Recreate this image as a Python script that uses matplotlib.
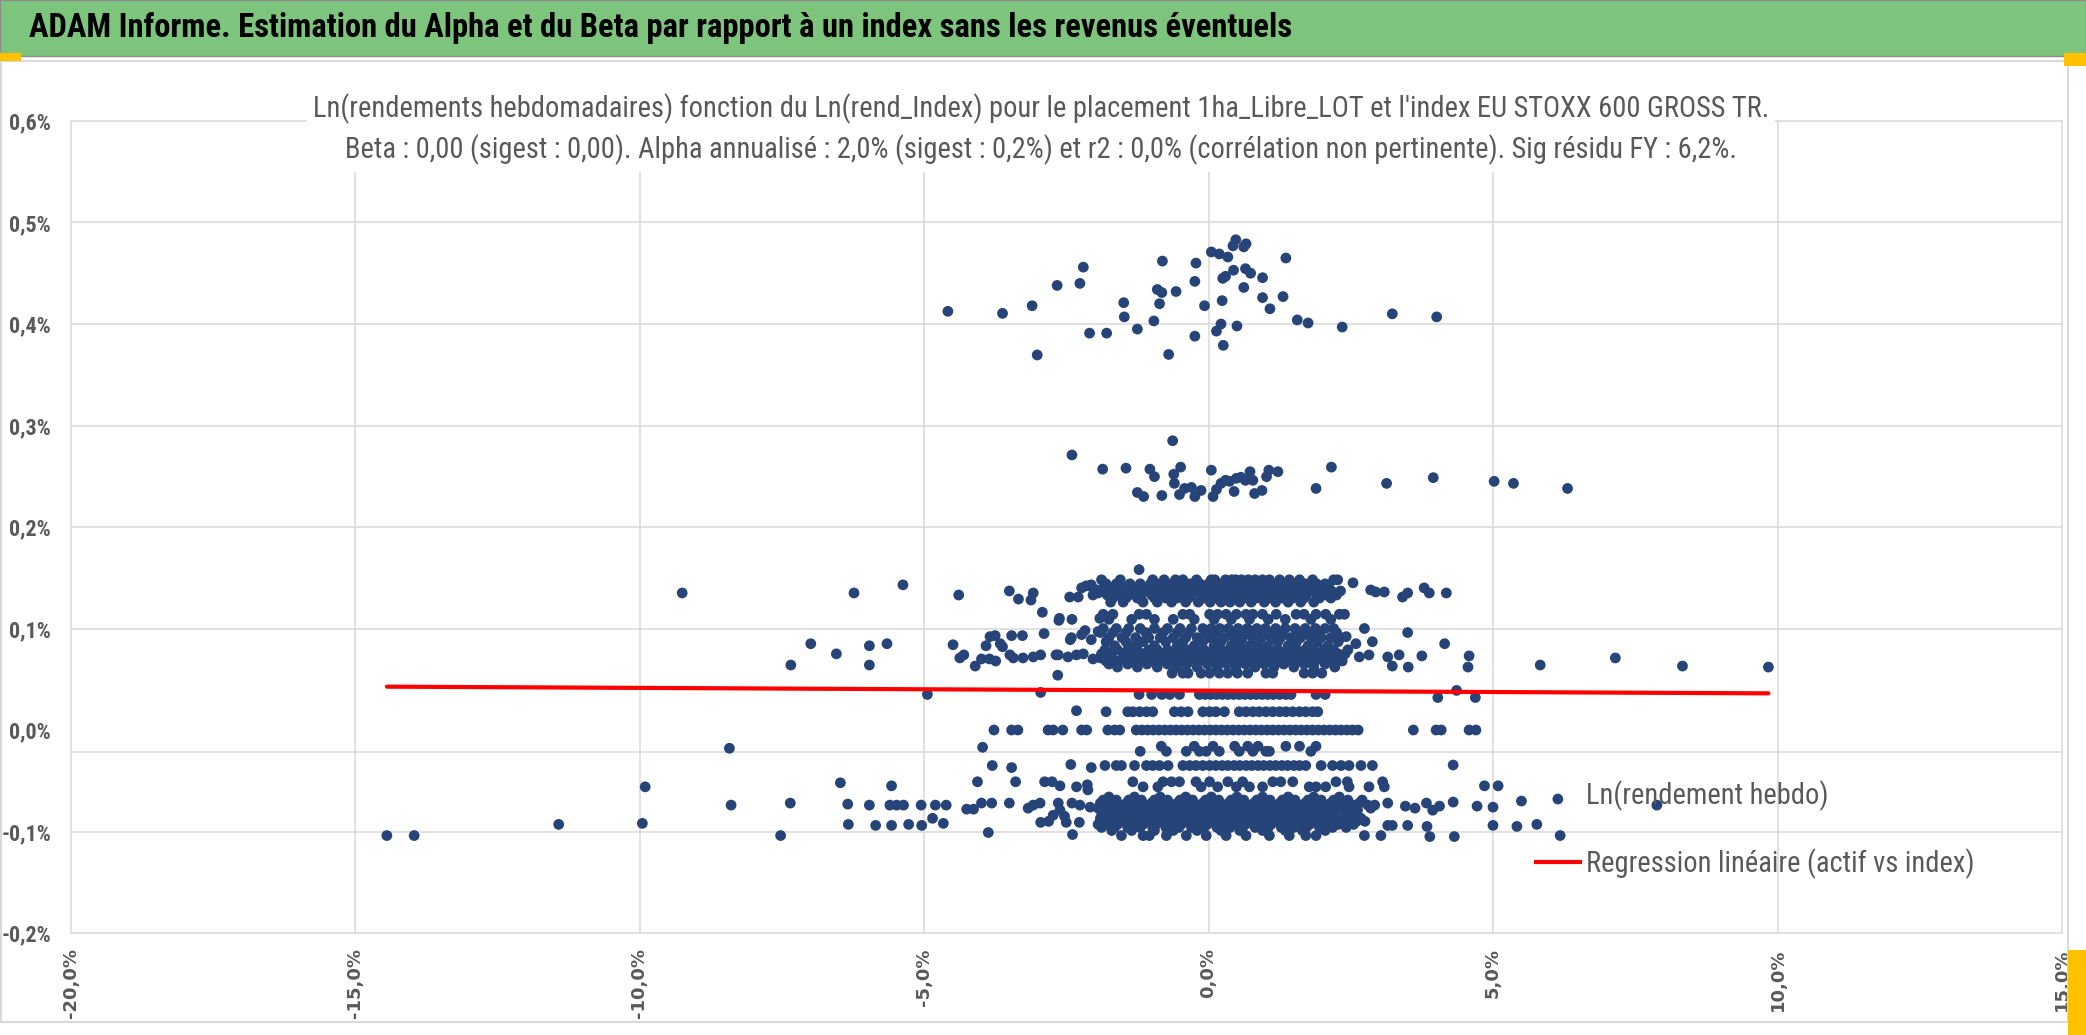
"""Nuage ADAM : ln(rendements hebdo) du placement contre ln(rendements) de l'index."""

import matplotlib
matplotlib.use("Agg")
import matplotlib.pyplot as plt
from matplotlib import font_manager
from matplotlib.font_manager import FontProperties
from matplotlib.lines import Line2D
from matplotlib.patches import Rectangle

# ---- data (en %) ----------------------------------------------------------
# amas du haut (0,37 % - 0,49 %)
hi_x = [-4.58, -3.62, -3.10, -3.01, -2.66, -2.26, -2.20, -2.09, -1.79, -1.49,
        -1.48, -1.25, -0.96, -0.90, -0.86, -0.82, -0.81, -0.70, -0.57, -0.24,
        -0.24, -0.22, -0.07, 0.05, 0.14, 0.19, 0.22, 0.24, 0.25, 0.26,
        0.30, 0.34, 0.43, 0.44, 0.48, 0.50, 0.62, 0.62, 0.66, 0.65,
        0.74, 0.95, 0.95, 1.08, 1.31, 1.36, 1.56, 1.75, 2.35, 3.23, 4.01]
hi_y = [0.4125, 0.4105, 0.418, 0.3695, 0.438, 0.440, 0.456, 0.391, 0.391, 0.421,
        0.407, 0.395, 0.403, 0.434, 0.420, 0.431, 0.462, 0.370, 0.432, 0.388,
        0.442, 0.460, 0.418, 0.471, 0.393, 0.469, 0.400, 0.423, 0.445, 0.379,
        0.447, 0.466, 0.477, 0.453, 0.483, 0.398, 0.436, 0.476, 0.479, 0.4545,
        0.450, 0.426, 0.4456, 0.415, 0.427, 0.465, 0.404, 0.401, 0.397, 0.410, 0.407]

# amas intermediaire (0,23 % - 0,29 %)
mid_x = [-2.40, -1.86, -1.45, -1.25, -1.14, -1.03, -0.95, -0.82, -0.63, -0.61,
         -0.60, -0.49, -0.51, -0.42, -0.30, -0.24, -0.13, 0.05, 0.08, 0.14,
         0.22, 0.30, 0.37, 0.45, 0.49, 0.57, 0.65, 0.73, 0.78, 0.81,
         0.94, 1.02, 1.06, 1.22, 1.89, 2.16, 3.13, 3.95, 5.02, 5.36, 6.31]
mid_y = [0.271, 0.257, 0.258, 0.234, 0.230, 0.257, 0.2496, 0.231, 0.285, 0.252,
         0.243, 0.259, 0.232, 0.238, 0.239, 0.230, 0.236, 0.256, 0.230, 0.237,
         0.243, 0.246, 0.245, 0.235, 0.248, 0.249, 0.246, 0.2545, 0.246, 0.233,
         0.236, 0.2496, 0.256, 0.2545, 0.238, 0.259, 0.243, 0.2486, 0.245, 0.243, 0.238]

# points isoles, a gauche et a droite du coeur
side_x = [-14.44, -13.96, -11.42, -9.95, -9.90, -9.25, -8.42, -8.39, -7.35, -7.52,
          -6.23, -5.37, -4.39, -3.50, -3.34, -3.12, -3.08, -2.92, -2.63, -2.62,
          -2.44, -2.40, -2.29, -2.23, -2.15, -2.06, -2.00, -1.97, -2.09, -2.03,
          -1.94, -1.91, -1.22,
          -7.34, -6.99, -6.54, -5.96, -5.96, -5.65, -4.49, -4.37, -4.30, -4.10,
          -3.99, -3.85, -3.74, -3.91, -3.84, -3.75, -3.66, -3.62, -3.49, -3.43,
          -3.26, -3.08, -2.95, -3.46, -3.27, -2.89, -2.68, -2.64, -2.47, -2.32,
          -2.20, -2.03, -2.65, -2.43, -2.41, -2.23, -2.17, -2.06, -1.94,
          -4.94, -2.95, -2.32,
          -3.77, -3.46, -3.35, -2.82, -2.73, -2.56, -2.23, -2.14,
          -3.97, -3.80, -3.46, -2.42, -2.06,
          -6.47, -5.57, -4.06, -3.39, -2.88, -2.75, -2.61, -2.32, -2.13, -2.12,
          -6.34, -5.96, -5.60, -5.48, -5.36, -5.05, -4.80, -4.61, -4.25, -4.13,
          -3.99, -3.81, -3.50, -3.17, -3.08, -2.96, -2.64, -2.61, -2.40, -2.26,
          -2.08, -1.94,
          -6.33, -5.85, -5.57, -5.27, -5.04, -4.85, -4.66, -2.95, -2.81, -2.73,
          -2.53, -2.50, -2.27, -1.94, -3.87, -2.39,
          2.54, 2.85, 2.94, 3.09, 3.41, 3.50, 3.79, 3.88, 4.18,
          2.74, 2.42, 2.59, 2.88, 3.50, 4.15, 2.65, 2.82, 3.15, 3.23,
          3.35, 3.51, 3.75, 4.58, 4.56, 5.83, 7.15, 8.33, 9.84,
          4.03, 4.36, 4.69, 3.60, 4.00, 4.09, 4.58, 4.70, 4.30, 4.85, 5.09,
          3.15, 3.46, 3.63, 3.83, 3.94, 4.06, 4.30, 4.72, 5.00, 5.50, 6.14, 7.88,
          3.15, 3.23, 3.50, 3.84, 5.00, 5.42, 5.77,
          3.89, 4.32, 6.18, 2.74, 3.03]
side_y = [-0.104, -0.104, -0.093, -0.092, -0.056, 0.135, -0.018, -0.074, -0.072, -0.104,
          0.135, 0.143, 0.133, 0.137, 0.129, 0.128, 0.135, 0.116, 0.108, 0.110,
          0.131, 0.109, 0.131, 0.140, 0.142, 0.143, 0.135, 0.138, 0.142, 0.133,
          0.135, 0.110, 0.158,
          0.064, 0.085, 0.075, 0.083, 0.064, 0.085, 0.084, 0.071, 0.074, 0.063,
          0.070, 0.070, 0.068, 0.083, 0.092, 0.093, 0.085, 0.082, 0.074, 0.071,
          0.071, 0.072, 0.074, 0.093, 0.093, 0.095, 0.074, 0.074, 0.072, 0.074,
          0.075, 0.070, 0.054, 0.089, 0.091, 0.094, 0.098, 0.089, 0.097,
          0.035, 0.037, 0.019,
          0.0, 0.0, 0.0, 0.0, 0.0, 0.0, 0.0, 0.0,
          -0.017, -0.035, -0.037, -0.034, -0.037,
          -0.052, -0.055, -0.051, -0.051, -0.051, -0.051, -0.055, -0.056, -0.054, -0.059,
          -0.073, -0.074, -0.074, -0.074, -0.074, -0.074, -0.074, -0.074, -0.078, -0.078,
          -0.072, -0.072, -0.072, -0.077, -0.074, -0.072, -0.072, -0.079, -0.072, -0.074,
          -0.076, -0.077,
          -0.093, -0.094, -0.094, -0.093, -0.094, -0.087, -0.092, -0.091, -0.090, -0.084,
          -0.085, -0.091, -0.091, -0.093, -0.101, -0.103,
          0.145, 0.138, 0.136, 0.136, 0.131, 0.135, 0.140, 0.135, 0.135,
          0.100, 0.092, 0.085, 0.087, 0.096, 0.085, 0.072, 0.074, 0.072, 0.063,
          0.074, 0.062, 0.073, 0.073, 0.062, 0.064, 0.071, 0.063, 0.062,
          0.032, 0.039, 0.032, 0.0, 0.0, 0.0, 0.0, 0.0, -0.0345, -0.055, -0.055,
          -0.072, -0.075, -0.077, -0.072, -0.079, -0.075, -0.071, -0.075, -0.076, -0.070, -0.068, -0.074,
          -0.094, -0.094, -0.094, -0.095, -0.094, -0.095, -0.093,
          -0.105, -0.105, -0.104, -0.104, -0.104]

# coeur dense : une liste d'abscisses par palier de rendement
row_148 = [-1.88, -1.55, -0.98, -0.78, -0.58, -0.45, -0.21, 0.05, 0.11, 0.30, 0.41,
           0.48, 0.58, 0.70, 0.82, 0.95, 1.07, 1.25, 1.42, 1.60, 1.83, 2.20, 2.27]
row_144 = [-1.80, -1.62, -1.38, -1.20, -1.02, -0.85, -0.65, -0.50, -0.32, -0.15, 0.00,
           0.16, 0.26, 0.40, 0.53, 0.66, 0.78, 0.92, 1.04, 1.20, 1.36, 1.52, 1.70,
           1.90, 2.05]
row_140 = [-1.85, -1.70, -1.45, -1.30, -1.10, -0.95, -0.70, -0.55, -0.38, -0.25, -0.05,
           0.08, 0.20, 0.35, 0.45, 0.60, 0.72, 0.88, 1.00, 1.15, 1.30, 1.48, 1.65,
           1.80, 1.98, 2.12]
row_137 = [-1.90, -1.65, -1.50, -1.25, -1.05, -0.88, -0.75, -0.52, -0.42, -0.20, -0.02,
           0.12, 0.24, 0.38, 0.50, 0.63, 0.76, 0.85, 0.97, 1.10, 1.26, 1.42, 1.58,
           1.75, 1.94, 2.16, 2.32]
row_133 = [-1.78, -1.60, -1.40, -1.18, -1.00, -0.82, -0.62, -0.48, -0.30, -0.12, 0.00,
           0.15, 0.27, 0.40, 0.52, 0.65, 0.78, 0.92, 1.05, 1.20, 1.35, 1.55, 1.72,
           1.90, 2.05, 2.25]
row_130 = [-1.68, -1.45, -1.25, -0.95, -0.75, -0.55, -0.35, -0.08, 0.10, 0.33, 0.47,
           0.62, 0.85, 1.10, 1.30, 1.48, 1.68, 1.95, 2.15]
row_126 = [-1.72, -1.50, -1.15, -0.90, -0.65, -0.40, -0.18, 0.03, 0.22, 0.38, 0.55,
           0.75, 0.98, 1.18, 1.40, 1.62, 1.85]
row_114 = [-1.85, -1.68, -1.22, -1.09, -0.45, -0.33, 0.02, 0.16, 0.31, 0.49, 0.66,
           0.78, 0.95, 1.19, 1.54, 1.68, 1.89, 2.06, 2.30, 2.39]
row_109 = [-1.75, -1.35, -0.95, -0.62, -0.25, 0.10, 0.40, 0.72, 1.05, 1.35, 1.80, 2.15]
row_100 = [-1.85, -1.62, -1.40, -1.20, -0.95, -0.72, -0.50, -0.30, -0.10, 0.05, 0.20,
           0.35, 0.52, 0.68, 0.85, 1.00, 1.18, 1.35, 1.52, 1.70, 1.88, 2.05, 2.20]
row_096 = [-1.90, -1.68, -1.45, -1.10, -0.80, -0.55, -0.35, -0.05, 0.15, 0.40, 0.57,
           0.75, 0.95, 1.15, 1.30, 1.58, 1.75, 1.95, 2.25]
row_091 = [-1.75, -1.52, -1.28, -1.05, -0.85, -0.62, -0.40, -0.20, 0.00, 0.12, 0.28,
           0.45, 0.60, 0.78, 0.93, 1.10, 1.27, 1.45, 1.62, 1.80, 1.98, 2.15, 2.32]
row_087 = [-1.80, -1.45, -1.15, -0.75, -0.45, -0.10, 0.22, 0.55, 0.88, 1.22, 1.55,
           1.92, 2.28]
row_083 = [-1.65, -1.30, -0.95, -0.55, -0.25, 0.10, 0.40, 0.72, 1.05, 1.40, 1.75, 2.10]
row_079 = [-1.82, -1.60, -1.42, -1.25, -1.05, -0.90, -0.72, -0.55, -0.38, -0.22, -0.08,
           0.08, 0.22, 0.36, 0.50, 0.65, 0.78, 0.94, 1.08, 1.22, 1.38, 1.55, 1.70,
           1.85, 2.02, 2.20, 2.45]
row_075 = [-1.88, -1.70, -1.50, -1.32, -1.15, -0.98, -0.80, -0.62, -0.45, -0.28, -0.12,
           0.02, 0.15, 0.30, 0.45, 0.58, 0.72, 0.88, 1.02, 1.18, 1.32, 1.48, 1.62,
           1.78, 1.95, 2.10, 2.28, 2.40]
row_071 = [-1.90, -1.72, -1.48, -1.28, -1.10, -0.92, -0.75, -0.58, -0.40, -0.25, -0.08,
           0.05, 0.20, 0.33, 0.48, 0.62, 0.75, 0.90, 1.05, 1.20, 1.35, 1.50, 1.66,
           1.82, 1.98, 2.15, 2.30]
row_068 = [-1.80, -1.58, -1.38, -1.20, -1.02, -0.85, -0.68, -0.50, -0.35, -0.18, -0.03,
           0.10, 0.25, 0.38, 0.52, 0.66, 0.80, 0.95, 1.10, 1.25, 1.40, 1.55, 1.70,
           1.87, 2.02, 2.18, 2.35]
row_065 = [-1.75, -1.42, -1.08, -0.72, -0.38, -0.02, 0.32, 0.65, 0.98, 1.32, 1.68, 2.05]
row_062 = [-1.60, -1.25, -0.90, -0.55, -0.20, 0.15, 0.48, 0.82, 1.15, 1.50, 1.85, 2.22]
row_056 = [-0.64, -0.45, -0.36, -0.13, 0.02, 0.19, 0.34, 0.51, 0.69, 1.01, 1.13,
           1.68, 1.83, 1.99]
row_035 = [-1.22, -1.00, -0.82, -0.68, -0.51, -0.16, -0.06, 0.04, 0.14, 0.24, 0.34,
           0.44, 0.54, 0.64, 0.74, 0.84, 0.94, 1.04, 1.14, 1.25, 1.36, 1.45, 1.89, 2.05]
row_018 = [-1.80, -1.42, -1.33, -1.21, -1.09, -0.98, -0.60, -0.48, -0.36, -0.10, 0.02,
           0.13, 0.28, 0.54, 0.66, 0.78, 0.89, 1.01, 1.13, 1.25, 1.36, 1.48, 1.60,
           1.71, 1.83, 1.92]
row_000 = [-1.77, -1.65, -1.56, -1.27, -1.17, -1.07, -0.97, -0.87, -0.77, -0.67, -0.57,
           -0.47, -0.37, -0.27, -0.17, -0.07, 0.03, 0.13, 0.23, 0.33, 0.43, 0.53,
           0.63, 0.73, 0.83, 0.93, 1.03, 1.13, 1.23, 1.33, 1.43, 1.53, 1.63, 1.73,
           1.83, 1.93, 2.03, 2.13, 2.23, 2.33, 2.43, 2.53, 2.63]
row_m016 = [-0.83, -0.25, 0.08, 0.46, 0.69, 0.87, 1.36, 1.60, 1.89]
row_m021 = [-1.20, -0.74, -0.39, -0.16, -0.04, 0.19, 0.54, 0.78, 1.01, 1.07, 1.80]
row_m035 = [-1.82, -1.62, -1.53, -1.30, -1.09, -0.98, -0.86, -0.71, -0.45, -0.33, -0.22,
            -0.10, 0.02, 0.13, 0.24, 0.34, 0.45, 0.55, 0.66, 0.76, 0.87, 0.97, 1.08,
            1.18, 1.29, 1.39, 1.50, 1.60, 1.71, 1.98, 2.18, 2.33, 2.47, 2.68, 2.88]
row_m051 = [-1.33, -0.80, -0.65, -0.51, -0.22, 0.02, 0.34, 0.60, 1.13, 1.27, 1.48,
            2.24, 2.44, 3.06]
row_m056 = [-1.15, -0.89, -0.13, 0.16, 0.49, 0.72, 0.95, 1.77, 1.89, 2.06, 2.47, 2.82, 3.09]
row_m066 = [-1.75, -1.30, -0.85, -0.40, 0.05, 0.50, 0.95, 1.40, 1.85, 2.30]
row_m069 = [-1.85, -1.62, -1.40, -1.18, -0.95, -0.72, -0.50, -0.28, -0.05, 0.18, 0.40,
            0.62, 0.85, 1.08, 1.30, 1.52, 1.75, 1.98, 2.20, 2.45, 2.70]
row_m072 = [-1.90, -1.66, -1.44, -1.22, -1.00, -0.78, -0.55, -0.32, -0.10, 0.12, 0.35,
            0.58, 0.80, 1.02, 1.25, 1.48, 1.70, 1.92, 2.15, 2.40, 2.65]
row_m074 = [-1.78, -1.55, -1.32, -1.10, -0.88, -0.65, -0.42, -0.20, 0.02, 0.25, 0.48,
            0.70, 0.92, 1.15, 1.38, 1.60, 1.82, 2.05, 2.30, 2.55, 2.80, 2.92]
row_m077 = [-1.82, -1.60, -1.38, -1.15, -0.92, -0.70, -0.48, -0.25, -0.02, 0.20, 0.42,
            0.65, 0.88, 1.10, 1.32, 1.55, 1.78, 2.00, 2.25, 2.50, 2.85]
row_m079 = [-1.70, -1.45, -1.22, -1.00, -0.78, -0.55, -0.32, -0.10, 0.12, 0.35, 0.58,
            0.80, 1.02, 1.25, 1.48, 1.70, 1.92, 2.15, 2.40, 2.62]
row_m081 = [-1.88, -1.52, -1.15, -0.82, -0.45, -0.05, 0.30, 0.68, 1.05, 1.42, 1.78,
            2.12, 2.58]
row_m084 = [-1.82, -1.58, -1.35, -1.12, -0.90, -0.68, -0.45, -0.22, 0.00, 0.22, 0.45,
            0.68, 0.90, 1.12, 1.35, 1.58, 1.80, 2.02, 2.25, 2.50]
row_m087 = [-1.90, -1.68, -1.45, -1.22, -1.00, -0.78, -0.55, -0.32, -0.10, 0.12, 0.35,
            0.58, 0.80, 1.02, 1.25, 1.48, 1.70, 1.92, 2.18, 2.42, 2.68]
row_m090 = [-1.75, -1.50, -1.28, -1.05, -0.82, -0.60, -0.38, -0.15, 0.08, 0.30, 0.52,
            0.75, 0.98, 1.20, 1.42, 1.65, 1.88, 2.10, 2.35, 2.60, 2.75]
row_m093 = [-1.82, -1.60, -1.38, -1.15, -0.92, -0.70, -0.48, -0.25, -0.02, 0.20, 0.42,
            0.65, 0.88, 1.10, 1.32, 1.55, 1.78, 2.00, 2.28, 2.55]
row_m096 = [-1.88, -1.65, -1.42, -1.20, -0.98, -0.75, -0.52, -0.30, -0.08, 0.15, 0.38,
            0.60, 0.82, 1.05, 1.28, 1.50, 1.72, 1.95, 2.18, 2.42]
row_m099 = [-1.70, -1.35, -0.95, -0.62, -0.20, 0.22, 0.55, 0.95, 1.35, 1.65, 2.05]
row_m104 = [-1.53, -1.15, -1.04, -0.74, -0.39, -0.04, 0.31, 0.66, 1.07, 1.42, 1.71, 1.89]

core_rows = [(0.148, row_148), (0.144, row_144), (0.140, row_140), (0.137, row_137),
             (0.133, row_133), (0.130, row_130), (0.126, row_126), (0.114, row_114),
             (0.109, row_109), (0.100, row_100), (0.096, row_096), (0.091, row_091),
             (0.087, row_087), (0.083, row_083), (0.079, row_079), (0.075, row_075),
             (0.071, row_071), (0.068, row_068), (0.065, row_065), (0.062, row_062),
             (0.056, row_056), (0.035, row_035), (0.018, row_018), (0.0, row_000),
             (-0.016, row_m016), (-0.021, row_m021), (-0.035, row_m035),
             (-0.051, row_m051), (-0.056, row_m056), (-0.066, row_m066),
             (-0.069, row_m069), (-0.072, row_m072), (-0.074, row_m074),
             (-0.077, row_m077), (-0.079, row_m079), (-0.081, row_m081),
             (-0.084, row_m084), (-0.087, row_m087), (-0.090, row_m090),
             (-0.093, row_m093), (-0.096, row_m096), (-0.099, row_m099),
             (-0.104, row_m104)]

# droite de regression (extremites)
reg_x = [-14.44, 9.84]
reg_y = [0.0427, 0.0361]

x_ticks = [-20, -15, -10, -5, 0, 5, 10, 15]
y_ticks = [-0.2, -0.1, 0.0, 0.1, 0.2, 0.3, 0.4, 0.5, 0.6]

title = ("ADAM Informe. Estimation du Alpha et du Beta par rapport à un index "
         "sans les revenus éventuels")
sub1 = ("Ln(rendements hebdomadaires) fonction du Ln(rend_Index) pour le placement "
        "1ha_Libre_LOT et l'index EU STOXX 600 GROSS TR.")
sub2 = ("Beta : 0,00 (sigest : 0,00). Alpha annualisé : 2,0% (sigest : 0,2%) et "
        "r2 : 0,0% (corrélation non pertinente). Sig résidu FY : 6,2%.")
leg_labels = ["Ln(rendement hebdo)", "Regression linéaire (actif vs index)"]

# ---- style -----------------------------------------------------------------
W, H = 2086, 1035
GREY = "#595959"
GRID = "#D9D9D9"
BLUE = "#264478"


def find_narrow():
    """Pick a narrow sans face (the original uses Calibri)."""
    ttf = font_manager.fontManager.ttflist
    names = {f.name for f in ttf}
    for n in ["Liberation Sans Narrow", "Roboto Condensed", "Open Sans Condensed",
              "Noto Sans Condensed", "DejaVu Sans Condensed"]:
        if n in names:
            return n, "normal"
    for fam in ["Noto Sans", "DejaVu Sans", "Open Sans", "Roboto"]:
        for f in ttf:
            if f.name == fam and str(f.stretch) in ("condensed", "semi-condensed",
                                                     "extra-condensed"):
                return fam, str(f.stretch)
    return "Liberation Sans", "normal"


NARROW, STRETCH = find_narrow()
FAM = [NARROW, "DejaVu Sans"]


def pct(v, nd=1):
    return (f"{v:.{nd}f}%").replace(".", ",").replace("-0,0%", "0,0%")


def fit_width(txt, width_px):
    """Scale the font size of txt so that it spans width_px pixels."""
    r = fig.canvas.get_renderer()
    w = txt.get_window_extent(renderer=r).width
    txt.set_fontsize(txt.get_fontsize() * width_px / w)


fig = plt.figure(figsize=(W / 100, H / 100), dpi=100)
fig.patch.set_facecolor("white")

# cadre et bandeau vert
fig.patches.append(Rectangle((0.5 / W, 1 - 1022 / H), 2067 / W, (1022 - 61) / H,
                             transform=fig.transFigure, fill=False,
                             edgecolor=GRID, lw=1.5))
fig.patches.append(Rectangle((0, 1 - 56 / H), 1, 56 / H, transform=fig.transFigure,
                             facecolor="#7DC57D", edgecolor="#8C8C8C", lw=1.0))
fig.patches.append(Rectangle((0, 1 - 61 / H), 21 / W, 8 / H, transform=fig.transFigure,
                             facecolor="#FFC000", edgecolor="none"))
fig.patches.append(Rectangle((2064 / W, 1 - 66 / H), 22 / W, 13 / H,
                             transform=fig.transFigure, facecolor="#FFC000",
                             edgecolor="none"))
fig.patches.append(Rectangle((2068 / W, 0), 18 / W, 85 / H, transform=fig.transFigure,
                             facecolor="#FFC000", edgecolor="none"))

t = fig.text(29 / W, 1 - 28 / H, title, ha="left", va="center", color="black",
             family=FAM, fontstretch=STRETCH, weight="bold", fontsize=24)
fit_width(t, 1272)

ax = fig.add_axes([70.5 / W, 102 / H, (2062 - 70.5) / W, (933 - 121) / H])
ax.set_xlim(-20, 15)
ax.set_ylim(-0.2, 0.6)

for v in x_ticks[1:-1]:
    ax.axvline(v, color=GRID, lw=1.1, zorder=0)
for v in y_ticks[1:-1]:
    # dans l'original le trait du 0,0 % est dessine un peu plus bas
    ax.axhline(v if v != 0 else -0.0217, color=GRID, lw=1.1, zorder=0)
for s in ax.spines.values():
    s.set_color(GRID)
    s.set_linewidth(1.1)

pts_x = hi_x + mid_x + side_x
pts_y = hi_y + mid_y + side_y
for level, xs in core_rows:
    pts_x += xs
    pts_y += [level] * len(xs)

ax.scatter(pts_x, pts_y, s=60, color=BLUE, edgecolors="none", zorder=2)
ax.plot(reg_x, reg_y, color="#FF0000", lw=3, solid_capstyle="round", zorder=3)

# taille des etiquettes de l'axe vertical : "-0,2%" large d'environ 50 px
probe = fig.text(0, 0, "-0,2%", family=FAM, fontstretch=STRETCH, weight="bold",
                 fontsize=16)
fit_width(probe, 50)
ysize = min(probe.get_fontsize(), 18)
probe.remove()

ax.set_xticks(x_ticks)
ax.set_xticklabels([pct(v) for v in x_ticks], rotation=90, family="DejaVu Sans",
                   weight="bold", fontsize=13, color=GREY)
ax.set_yticks(y_ticks)
ax.set_yticklabels([pct(v) for v in y_ticks], family=FAM, fontstretch=STRETCH,
                   weight="bold", fontsize=ysize, color=GREY)
ax.tick_params(axis="x", length=0, pad=11)
ax.tick_params(axis="y", length=0, pad=14)

s2 = fig.text(1041 / W, 1 - 150 / H, sub2, ha="center", va="center", color=GREY,
              family=FAM, fontstretch=STRETCH, fontsize=20,
              bbox=dict(facecolor="white", edgecolor="none", pad=5))
s1 = fig.text(1041 / W, 1 - 109 / H, sub1, ha="center", va="center", color=GREY,
              family=FAM, fontstretch=STRETCH, fontsize=20,
              bbox=dict(facecolor="white", edgecolor="none", pad=4))
fit_width(s1, 1454)
s2.set_fontsize(s1.get_fontsize())

handles = [Line2D([], [], ls="none"),
           Line2D([], [], color="#FF0000", lw=3)]
fs = s1.get_fontsize()
ax.legend(handles, leg_labels, loc="center left",
          bbox_to_anchor=(1536 / W, 1 - 830 / H), bbox_transform=fig.transFigure,
          frameon=False, borderpad=0, borderaxespad=0, handlelength=1.55,
          handletextpad=0.2, labelspacing=1.3,
          prop=FontProperties(family=FAM, stretch=STRETCH, size=fs),
          labelcolor=GREY)

fig.savefig("out.png", dpi=100, facecolor="white")
